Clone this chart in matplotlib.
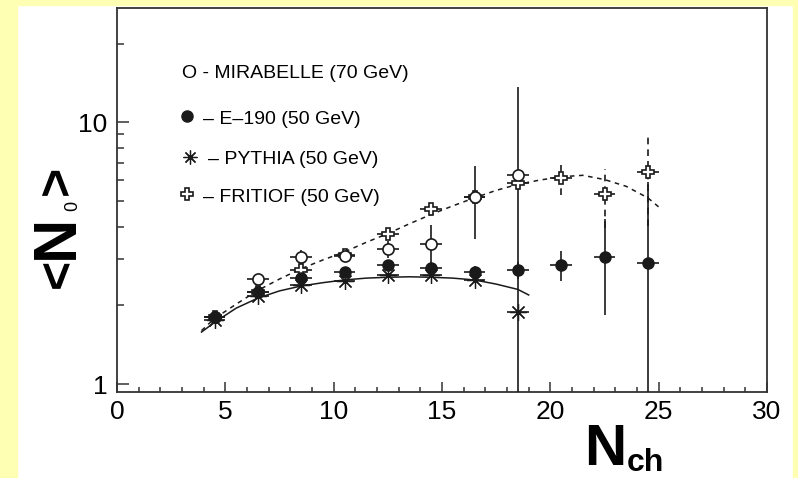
import matplotlib
matplotlib.use('Agg')
import matplotlib.pyplot as plt
from matplotlib.patches import Rectangle
from matplotlib.ticker import MultipleLocator, NullFormatter

plt.rcParams['font.family'] = 'Liberation Sans'

W, H = 798, 478

# charged multiplicity bins (bin half width 0.5)
n_ch = [4.5, 6.5, 8.5, 10.5, 12.5, 14.5, 16.5, 18.5, 20.5, 22.5, 24.5]
x_half = 0.5

# MIRABELLE (70 GeV), open circles
mir_x = [4.5, 6.5, 8.5, 10.5, 12.5, 14.5, 16.5, 18.5]
mir_y = [1.80, 2.51, 3.06, 3.10, 3.27, 3.44, 5.20, 6.28]
mir_err = [0.08, 0.12, 0.18, 0.15, 0.25, 0.60, 1.61, 7.40]

# E-190 (50 GeV), filled circles
e190_y = [1.80, 2.25, 2.55, 2.68, 2.85, 2.77, 2.68, 2.72, 2.85, 3.06, 2.90]
e190_err = [0.06, 0.08, 0.10, 0.10, 0.12, 0.15, 0.15, 0.20, 0.38, 1.22, 3.00]

# PYTHIA (50 GeV), stars
pyt_x = [4.5, 6.5, 8.5, 10.5, 12.5, 14.5, 16.5, 18.5]
pyt_y = [1.75, 2.17, 2.39, 2.48, 2.60, 2.60, 2.50, 1.89]

# FRITIOF (50 GeV), open crosses
frt_y = [1.80, 2.25, 2.74, 3.11, 3.76, 4.65, 5.17, 5.87, 6.15, 5.31, 6.46]
frt_err = [0.05, 0.06, 0.08, 0.10, 0.12, 0.15, 0.20, 0.25, 0.87, 1.35, 2.45]

# fitted curves
fit_low_x = [3.9, 4.5, 5.5, 6.5, 7.5, 8.5, 9.5, 10.5, 11.5, 12.5, 13.5,
             14.5, 15.5, 16.5, 17.5, 18.5, 19.0]
fit_low_y = [1.58, 1.72, 1.95, 2.13, 2.27, 2.37, 2.44, 2.50, 2.54, 2.56,
             2.57, 2.56, 2.54, 2.50, 2.41, 2.30, 2.19]
fit_high_x = [3.9, 4.5, 5.5, 6.5, 7.5, 8.5, 9.5, 10.5, 11.5, 12.5, 13.5,
              14.5, 15.5, 16.5, 17.5, 18.5, 19.5, 20.5, 21.5, 22.5, 23.5,
              24.5, 25.1]
fit_high_y = [1.60, 1.78, 2.02, 2.28, 2.52, 2.76, 2.98, 3.20, 3.48, 3.76,
              4.10, 4.45, 4.80, 5.15, 5.50, 5.80, 6.02, 6.20, 6.28, 6.05,
              5.70, 5.15, 4.68]

legend_lines = ['O - MIRABELLE (70 GeV)', '\u2013 E\u2013190 (50 GeV)',
                '\u2013 PYTHIA (50 GeV)', '\u2013 FRITIOF (50 GeV)']


def fx(px):
    return px / W


def fy(py):
    return 1 - py / H


fig = plt.figure(figsize=(W / 100, H / 100), dpi=100, facecolor='white')
# pale yellow frame round the picture
yellow = '#FFFFB4'
for x0, y0, w, h in [(0, 0, 17, H), (793, 0, 5, H), (0, 0, W, 5)]:
    fig.patches.append(Rectangle((fx(x0), fy(y0 + h)), w / W, h / H,
                                 transform=fig.transFigure, color=yellow,
                                 zorder=0))

ax = fig.add_axes([fx(117), fy(392), 650 / W, 384 / H])
ax.set_yscale('log')
ax.set_xlim(0, 30)
ax.set_ylim(0.932, 27.4)

ink = '#1a1a1a'
for s in ax.spines.values():
    s.set_linewidth(1.3)
    s.set_color('#333333')

# curves
ax.plot(fit_low_x, fit_low_y, color=ink, lw=1.1, zorder=2)
ax.plot(fit_high_x, fit_high_y, color=ink, lw=1.1, ls=(0, (3, 3)), zorder=2)

eb_kw = dict(fmt='none', ecolor=ink, elinewidth=1.2, capsize=0, zorder=3)
ax.errorbar(mir_x, mir_y, xerr=x_half, yerr=mir_err, **eb_kw)
ax.errorbar(n_ch, e190_y, xerr=x_half, yerr=e190_err, **eb_kw)
ax.errorbar(pyt_x, pyt_y, xerr=x_half, **eb_kw)
ax.errorbar(n_ch, frt_y, xerr=x_half, **eb_kw)
eb = ax.errorbar(n_ch, frt_y, yerr=frt_err, **eb_kw)
eb[2][0].set_linestyle((0, (4, 3)))

star = (8, 2, 0)
ax.plot(pyt_x, pyt_y, ls='none', marker=star, ms=12, mec=ink, mew=0.9,
        zorder=4)
ax.plot(n_ch, frt_y, ls='none', marker='P', ms=9, mfc='white', mec=ink,
        mew=1.2, zorder=5)
ax.plot(mir_x, mir_y, ls='none', marker='o', ms=8, mfc='white', mec=ink,
        mew=1.2, zorder=6)
ax.plot(n_ch, e190_y, ls='none', marker='o', ms=8, mfc=ink, mec=ink,
        zorder=7)

# ticks
ax.xaxis.set_major_locator(MultipleLocator(5))
ax.xaxis.set_minor_locator(MultipleLocator(1))
ax.set_yticks([1, 10])
ax.set_yticklabels(['1', '10'])
ax.set_yticks([2, 3, 4, 5, 6, 7, 8, 9, 20], minor=True)
ax.yaxis.set_minor_formatter(NullFormatter())
ax.tick_params(which='both', direction='in', top=False, right=False,
               colors='#333333', labelcolor='black', width=1.1,
               labelsize=19)
ax.tick_params(axis='y', which='major', length=8.4, pad=7)
ax.tick_params(axis='y', which='minor', length=5)
ax.tick_params(axis='x', which='major', length=7.2, pad=6)
ax.tick_params(axis='x', which='minor', length=3.6)

# legend written by hand like the original
text_x = [182, 203, 208, 203]
text_base = [78, 124, 164, 202]
for s, tx, ty in zip(legend_lines, text_x, text_base):
    fig.text(fx(tx), fy(ty), s, fontsize=14, ha='left', va='baseline')
fig.lines.append(plt.Line2D([fx(187)], [fy(116)], marker='o', ms=8,
                            color=ink, transform=fig.transFigure))
fig.lines.append(plt.Line2D([fx(190)], [fy(157)], marker=star, ms=10,
                            mew=0.9, color=ink, transform=fig.transFigure))
fig.lines.append(plt.Line2D([fx(187)], [fy(194)], marker='P', ms=9,
                            mfc='white', mec=ink, mew=1.2,
                            transform=fig.transFigure))

# axis titles
rot = dict(rotation=90, ha='center', va='center', fontweight='bold')
fig.text(fx(58.5), fy(273), '<', fontsize=36, **rot)
fig.text(fx(57), fy(237), 'N', fontsize=44, **rot)
fig.text(fx(73), fy(206), '0', fontsize=13, rotation=90, ha='center',
         va='center')
fig.text(fx(57.5), fy(180), '>', fontsize=36, **rot)

fig.text(fx(584), fy(465), 'N', fontsize=42, fontweight='bold',
         ha='left', va='baseline')
fig.text(fx(627), fy(471), 'ch', fontsize=23, fontweight='bold',
         ha='left', va='baseline')

fig.savefig('out.png', dpi=100, facecolor='white')
